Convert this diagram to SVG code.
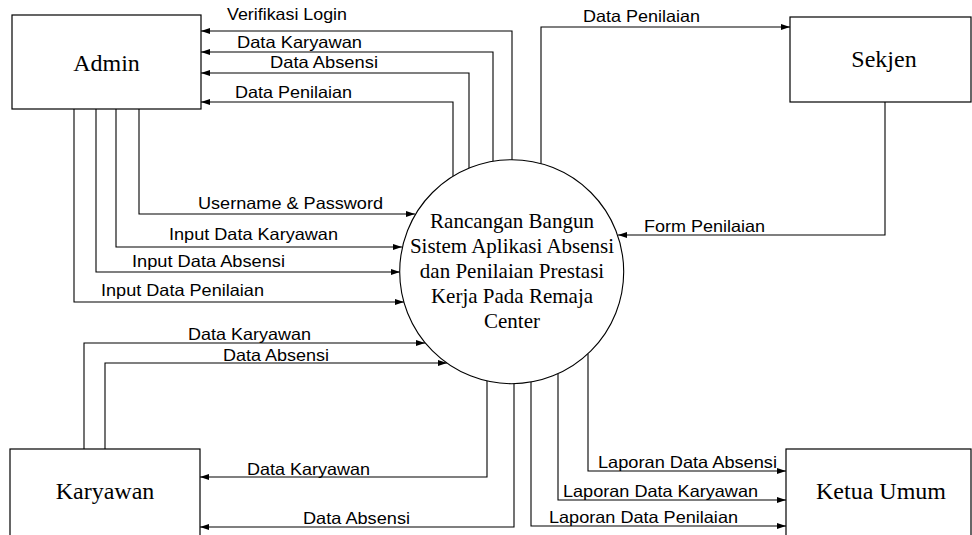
<svg xmlns="http://www.w3.org/2000/svg" width="972" height="535" viewBox="0 0 972 535">
<style>
.box{fill:#fff;stroke:#000;stroke-width:1.2}
.title{font-family:"Liberation Serif","Times New Roman",serif;font-size:24px;fill:#000;text-anchor:middle}
.proc{font-family:"Liberation Serif","Times New Roman",serif;font-size:21px;fill:#000;text-anchor:middle}
.flow{fill:none;stroke:#000;stroke-width:1.1;marker-end:url(#ah)}
.lbl{font-family:"Liberation Sans",Arial,sans-serif;font-size:16.5px;fill:#000}
</style>
<defs>
<marker id="ah" markerUnits="userSpaceOnUse" markerWidth="10" markerHeight="6" refX="9" refY="3" orient="auto">
<path d="M0,0 L9,3 L0,6 z" fill="#000"/>
</marker>
</defs>
<rect width="972" height="535" fill="#fff"/>

<g id="connectors">
<path class="flow" d="M512,160 V31 H201"/>
<path class="flow" d="M493,161 V52 H201"/>
<path class="flow" d="M469,168 V73 H201"/>
<path class="flow" d="M453,176 V102 H201"/>
<path class="flow" d="M139,109 V214 H415"/>
<path class="flow" d="M116,109 V247 H402"/>
<path class="flow" d="M96,109 V272 H400"/>
<path class="flow" d="M74,109 V302 H404"/>
<path class="flow" d="M541,164 V27 H790"/>
<path class="flow" d="M885,102 V235 H618"/>
<path class="flow" d="M84,449 V343 H425"/>
<path class="flow" d="M105,449 V363 H447"/>
<path class="flow" d="M487,381 V477 H200"/>
<path class="flow" d="M514,384 V527 H200"/>
<path class="flow" d="M588,354 V471 H786"/>
<path class="flow" d="M558,374 V500 H786"/>
<path class="flow" d="M531,382 V526 H786"/>
<text class="lbl" x="227" y="20" textLength="120" lengthAdjust="spacingAndGlyphs">Verifikasi Login</text>
<text class="lbl" x="237" y="47.5" textLength="125" lengthAdjust="spacingAndGlyphs">Data Karyawan</text>
<text class="lbl" x="270" y="68" textLength="108" lengthAdjust="spacingAndGlyphs">Data Absensi</text>
<text class="lbl" x="235" y="97.5" textLength="117" lengthAdjust="spacingAndGlyphs">Data Penilaian</text>
<text class="lbl" x="583" y="22" textLength="117" lengthAdjust="spacingAndGlyphs">Data Penilaian</text>
<text class="lbl" x="644" y="232" textLength="121" lengthAdjust="spacingAndGlyphs">Form Penilaian</text>
<text class="lbl" x="198" y="209" textLength="185" lengthAdjust="spacingAndGlyphs">Username &amp; Password</text>
<text class="lbl" x="169" y="240" textLength="169" lengthAdjust="spacingAndGlyphs">Input Data Karyawan</text>
<text class="lbl" x="132" y="266.5" textLength="153" lengthAdjust="spacingAndGlyphs">Input Data Absensi</text>
<text class="lbl" x="101" y="296" textLength="163" lengthAdjust="spacingAndGlyphs">Input Data Penilaian</text>
<text class="lbl" x="188" y="340" textLength="123" lengthAdjust="spacingAndGlyphs">Data Karyawan</text>
<text class="lbl" x="223" y="360.5" textLength="106" lengthAdjust="spacingAndGlyphs">Data Absensi</text>
<text class="lbl" x="247" y="475" textLength="123" lengthAdjust="spacingAndGlyphs">Data Karyawan</text>
<text class="lbl" x="303" y="523.5" textLength="107" lengthAdjust="spacingAndGlyphs">Data Absensi</text>
<text class="lbl" x="598" y="468" textLength="179" lengthAdjust="spacingAndGlyphs">Laporan Data Absensi</text>
<text class="lbl" x="563" y="496.5" textLength="195" lengthAdjust="spacingAndGlyphs">Laporan Data Karyawan</text>
<text class="lbl" x="549" y="523" textLength="189" lengthAdjust="spacingAndGlyphs">Laporan Data Penilaian</text>
</g>

<g id="admin">
<rect class="box" x="12" y="15" width="189" height="94"/>
<text class="title" x="106.5" y="71">Admin</text>
</g>
<g id="sekjen">
<rect class="box" x="790" y="17" width="181" height="85"/>
<text class="title" x="884" y="67">Sekjen</text>
</g>
<g id="karyawan">
<rect class="box" x="10" y="449" width="190" height="92"/>
<text class="title" x="105" y="499">Karyawan</text>
</g>
<g id="ketua-umum">
<rect class="box" x="786" y="449" width="185" height="92"/>
<text class="title" x="881" y="499">Ketua Umum</text>
</g>
<g id="process">
<circle cx="511.7" cy="271.7" r="112" fill="#fff" stroke="#000" stroke-width="1.1"/>
<text class="proc" x="512" y="228">Rancangan Bangun</text>
<text class="proc" x="512" y="253">Sistem Aplikasi Absensi</text>
<text class="proc" x="512" y="278">dan Penilaian Prestasi</text>
<text class="proc" x="512" y="303">Kerja Pada Remaja</text>
<text class="proc" x="512" y="328">Center</text>
</g>
</svg>
